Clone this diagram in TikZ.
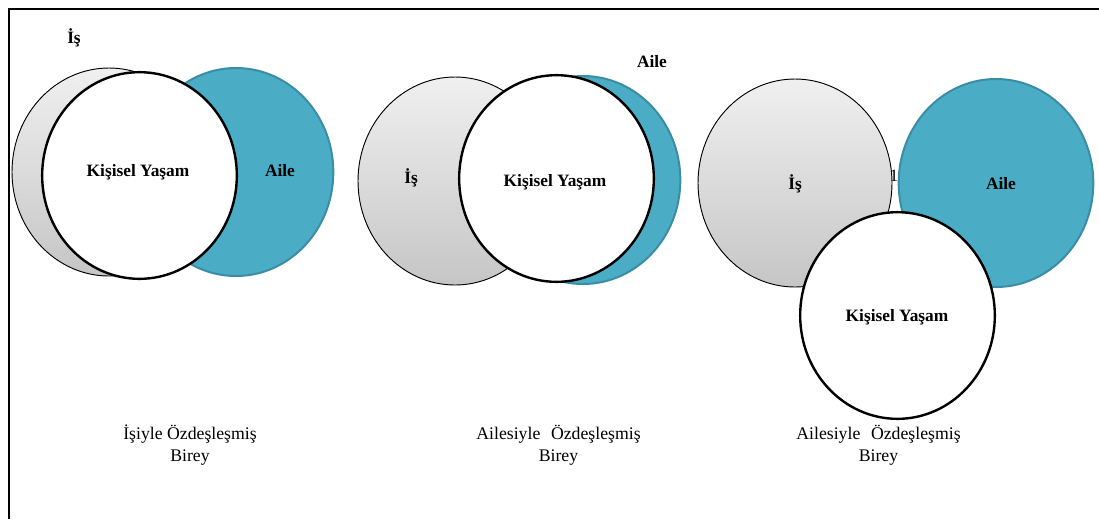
\documentclass[tikz,border=0pt]{standalone}
\usepackage{fontspec}
\setmainfont{Liberation Serif}
\usetikzlibrary{shapes.geometric}
\definecolor{aileBlue}{HTML}{4BACC6}
\definecolor{aileEdge}{HTML}{3A8DA4}

\begin{document}
\begin{tikzpicture}[x=0.75pt,y=-0.75pt]
	%defines
	\tikzstyle{isCircle} = [ellipse, minimum width=145.5pt, minimum height=156pt, inner sep=0pt, draw=black, line width=0.7pt, top color=gray!12, bottom color=gray!45]
	\tikzstyle{aileCircle} = [ellipse, minimum width=146pt, minimum height=156pt, inner sep=0pt, draw=aileEdge, line width=1.5pt, fill=aileBlue]
	\tikzstyle{yasamCircle} = [ellipse, minimum width=146pt, minimum height=155pt, inner sep=0pt, draw=black, line width=1.8pt, fill=white]
	\tikzstyle{circleText} = [inner sep=0pt, font=\fontsize{13}{15}\selectfont\bfseries]
	\tikzstyle{caption} = [align=center, inner sep=0pt, font=\fontsize{13.3}{16.5}\selectfont]
	\useasboundingbox (0,0) rectangle (1099,519);
	%frame
	\draw [line width=2.2pt] (9,519) -- (9,9) -- (1099,9);
	%first: isiyle
	\node (is1) [isCircle] at (109,172) {};
	\node (aile1) [aileCircle] at (236,172) {};
	\node (yasam1) [yasamCircle] at (139.5,175.5) {};
	\node (is1Text) [circleText] at (74,38) {İş};
	\node (aile1Text) [circleText] at (280,171) {Aile};
	\node (yasam1Text) [circleText] at (138,172) {Kişisel Yaşam};
	\node (caption1) [caption] at (190,445) {İşiyle Özdeşleşmiş\\Birey};
	%second: ailesiyle
	\node (is2) [isCircle] at (455,181) {};
	\node (aile2) [aileCircle] at (583,180) {};
	\node (yasam2) [yasamCircle] at (556.5,178.5) {};
	\node (is2Text) [circleText] at (411,178) {İş};
	\node (aile2Text) [circleText] at (652,62) {Aile};
	\node (yasam2Text) [circleText] at (555,182) {Kişisel Yaşam};
	\node (caption2) [caption] at (558.5,445) {Ailesiyle\hspace{0.6em}Özdeşleşmiş\\Birey};
	%third
	\node (stray3) [inner sep=0pt, font=\fontsize{13}{15}\selectfont] at (894,176) {1};
	\node (is3) [isCircle] at (795,183) {};
	\node (aile3) [aileCircle] at (996,183) {};
	\node (yasam3) [yasamCircle] at (897.5,315.5) {};
	\node (is3Text) [circleText] at (795,184) {İş};
	\node (aile3Text) [circleText] at (1001,184) {Aile};
	\node (yasam3Text) [circleText] at (897,317) {Kişisel Yaşam};
	\node (caption3) [caption] at (878.5,445) {Ailesiyle\hspace{0.6em}Özdeşleşmiş\\Birey};
\end{tikzpicture}
\end{document}
